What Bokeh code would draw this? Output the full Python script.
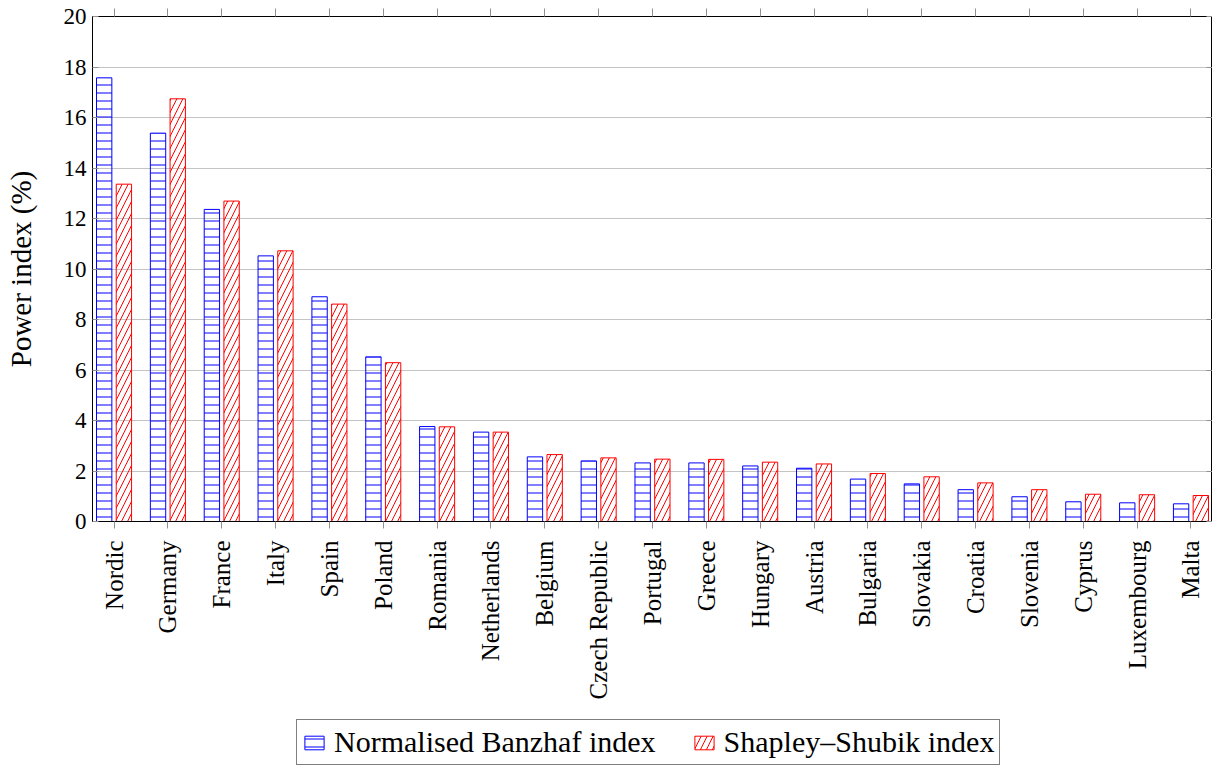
from math import pi
from bokeh.plotting import figure
from bokeh.layouts import column
from bokeh.models import (FactorRange, ColumnDataSource, Legend, LegendItem,
                          CategoricalAxis, LinearAxis, FixedTicker, Range1d)
from bokeh.transform import dodge
from bokeh.embed import file_html
from bokeh.resources import INLINE

countries = ["Nordic", "Germany", "France", "Italy", "Spain", "Poland", "Romania",
             "Netherlands", "Belgium", "Czech Republic", "Portugal", "Greece",
             "Hungary", "Austria", "Bulgaria", "Slovakia", "Croatia", "Slovenia",
             "Cyprus", "Luxembourg", "Malta"]
banzhaf = [17.57, 15.38, 12.36, 10.52, 8.90, 6.52, 3.76, 3.54, 2.56, 2.40, 2.32,
           2.32, 2.20, 2.11, 1.68, 1.49, 1.26, 0.98, 0.78, 0.74, 0.70]
shapley = [13.36, 16.74, 12.69, 10.72, 8.61, 6.29, 3.75, 3.54, 2.65, 2.52, 2.47,
           2.46, 2.35, 2.28, 1.90, 1.77, 1.53, 1.26, 1.08, 1.06, 1.03]
y_ticks = [0, 2, 4, 6, 8, 10, 12, 14, 16, 18, 20]
series_names = ["Normalised Banzhaf index", "Shapley\u2013Shubik index"]

FONT = "Liberation Serif"
BLUE = "#0000ff"
RED = "#ff0000"
blue_style = dict(fill_color=None, line_color=BLUE, line_width=1,
                  hatch_pattern="horizontal_line", hatch_color=BLUE,
                  hatch_scale=8, hatch_weight=1)
red_style = dict(fill_color=None, line_color=RED, line_width=1,
                 hatch_pattern="right_diagonal_line", hatch_color=RED,
                 hatch_scale=12, hatch_weight=1)

src = ColumnDataSource(dict(country=countries, banzhaf=banzhaf, shapley=shapley))

x_range = FactorRange(factors=countries, range_padding=-0.1,
                      range_padding_units="absolute")

p = figure(width=1212, height=715, x_range=x_range, y_range=Range1d(0, 20),
           output_backend="svg", toolbar_location=None,
           min_border_left=92, min_border_right=0, min_border_top=16,
           min_border_bottom=194)

p.outline_line_color = "black"
p.outline_line_width = 1
p.background_fill_color = "white"
p.border_fill_color = "white"

p.vbar(x=dodge("country", -0.183, range=p.x_range), top="banzhaf", width=0.285,
       source=src, **blue_style)
p.vbar(x=dodge("country", 0.183, range=p.x_range), top="shapley", width=0.285,
       source=src, **red_style)

# grid
p.xgrid.grid_line_color = None
p.ygrid.grid_line_color = "#c4c4c4"
p.ygrid.grid_line_width = 1
p.ygrid.ticker = FixedTicker(ticks=y_ticks)

# bottom x axis
xa = p.xaxis[0]
xa.major_label_orientation = pi / 2
xa.major_label_text_font = FONT
xa.major_label_text_font_size = "25px"
xa.major_label_text_color = "black"
xa.major_label_standoff = 12
xa.major_tick_out = 7
xa.major_tick_in = 0
xa.major_tick_line_color = "#909090"
xa.axis_line_color = "black"
xa.minor_tick_line_color = None

# left y axis
ya = p.yaxis[0]
ya.ticker = FixedTicker(ticks=y_ticks)
ya.major_label_text_font = FONT
ya.major_label_text_font_size = "23px"
ya.major_label_text_color = "black"
ya.major_label_standoff = 6
ya.major_tick_in = 6
ya.major_tick_out = 0
ya.major_tick_line_color = "#909090"
ya.minor_tick_line_color = None
ya.axis_line_color = "black"
ya.axis_label = "Power index (%)"
ya.axis_label_text_font = FONT
ya.axis_label_text_font_size = "29px"
ya.axis_label_text_font_style = "normal"
ya.axis_label_text_color = "black"
ya.axis_label_standoff = 24

# top mirror axis (ticks only)
ta = CategoricalAxis(major_label_text_font_size="1px", major_label_text_color=None,
                     major_label_standoff=0, major_tick_out=8, major_tick_in=0,
                     major_tick_line_color="#909090", axis_line_color="black",
                     minor_tick_line_color=None)
p.add_layout(ta, "above")

# right mirror axis (ticks only)
ra = LinearAxis(ticker=FixedTicker(ticks=y_ticks), major_label_text_font_size="1px",
                major_label_text_color=None,
                major_label_standoff=0, major_tick_in=6, major_tick_out=0,
                major_tick_line_color="#909090", axis_line_color="black",
                minor_tick_line_color=None)
p.add_layout(ra, "right")

# legend strip below the chart (same series, renderers hidden; only legend shows)
q = figure(width=1212, height=50, x_range=p.x_range, y_range=Range1d(-2, -1),
           output_backend="svg", toolbar_location=None,
           x_axis_location=None, y_axis_location=None,
           min_border_left=0, min_border_right=0, min_border_top=0,
           min_border_bottom=0)
q.outline_line_color = None
q.grid.grid_line_color = None
q.background_fill_color = "white"
q.border_fill_color = "white"
l1 = q.vbar(x=dodge("country", -0.183, range=p.x_range), top="banzhaf", width=0.285,
            source=src, **blue_style)
l2 = q.vbar(x=dodge("country", 0.183, range=p.x_range), top="shapley", width=0.285,
            source=src, **red_style)
l1.visible = False
l2.visible = False

legend = Legend(items=[LegendItem(label=series_names[0], renderers=[l1]),
                       LegendItem(label=series_names[1], renderers=[l2])],
                orientation="horizontal", location=(204, 0),
                label_text_font=FONT, label_text_font_size="30px",
                label_text_color="black", glyph_width=24, glyph_height=17,
                label_standoff=8, spacing=36, padding=5, margin=0,
                border_line_color="black", border_line_width=1,
                background_fill_color="white", background_fill_alpha=1,
                inactive_fill_alpha=0, label_height=32)
q.add_layout(legend, "center")

layout = column(p, q, spacing=0)
open("out.html", "w").write(file_html(layout, INLINE))
